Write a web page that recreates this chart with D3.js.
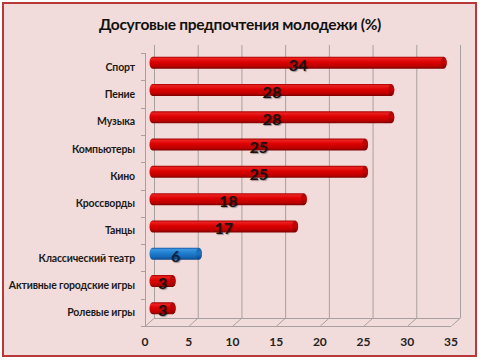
<!DOCTYPE html>
<html><head><meta charset="utf-8">
<script src="https://cdn.jsdelivr.net/npm/d3@7/dist/d3.min.js"></script>
<style>html,body{margin:0;padding:0;background:#fff;}svg{display:block;}</style>
</head><body>
<script>
const categories = ["Спорт","Пение","Музыка","Компьютеры","Кино","Кроссворды","Танцы","Классический театр","Активные городские игры","Ролевые игры"];
const values = [34,28,28,25,25,18,17,6,3,3];
const highlight = ["Классический театр"];
const xTicks = [0,5,10,15,20,25,30,35];
const title = "Досуговые предпочтения молодежи (%)";

const W=480,H=360;
const svg=d3.select("body").append("svg").attr("width",W).attr("height",H);
const defs=svg.append("defs");
function grad(id,stops){
  const g=defs.append("linearGradient").attr("id",id).attr("x1",0).attr("y1",0).attr("x2",0).attr("y2",1);
  stops.forEach(s=>g.append("stop").attr("offset",s[0]).attr("stop-color",s[1]));
}
grad("red",[[0,"#a00000"],[0.15,"#ec2020"],[0.45,"#dc0000"],[0.8,"#bc0000"],[1,"#7a0000"]]);
grad("blue",[[0,"#1258a0"],[0.15,"#3a94e0"],[0.45,"#1f7ed0"],[0.8,"#1466b4"],[1,"#0c4584"]]);
grad("redcap",[[0,"#8a0000"],[0.5,"#c00000"],[1,"#700000"]]);
grad("bluecap",[[0,"#0e4c8c"],[0.5,"#1a70c0"],[1,"#0b3e74"]]);

svg.append("rect").attr("x",3).attr("y",3).attr("width",473).attr("height",353)
  .attr("fill","#f2dcdb").attr("stroke","#b8393a").attr("stroke-width",2);

svg.append("text").attr("x",240).attr("y",30).attr("text-anchor","middle")
  .attr("font-family","Lato, 'Open Sans', sans-serif").attr("font-size",15.5).attr("font-weight",700)
  .attr("letter-spacing",-0.3).attr("fill","#111").text(title);

const x=d3.scaleLinear().domain([0,35]).range([145,451]);
const y=d3.scaleBand().domain(categories).range([53,326]);
const dx=9, dy=-8;
const plotTop=53, plotBase=326;

const grid=svg.append("g").attr("stroke","#a6a0a0").attr("stroke-width",1).attr("fill","none");
xTicks.forEach(t=>{
  grid.append("line").attr("x1",x(t)+dx+0.5).attr("x2",x(t)+dx+0.5).attr("y1",plotTop+dy).attr("y2",plotBase+dy);
  grid.append("line").attr("x1",x(t)+dx+0.5).attr("y1",plotBase+dy).attr("x2",x(t)+0.5).attr("y2",plotBase);
});
grid.append("line").attr("x1",x(0)+dx).attr("x2",x(35)+dx).attr("y1",plotBase+dy+0.5).attr("y2",plotBase+dy+0.5);
grid.append("line").attr("x1",x(0)).attr("x2",x(35)).attr("y1",plotBase+0.5).attr("y2",plotBase+0.5);
grid.append("line").attr("x1",x(0)+0.5).attr("x2",x(0)+0.5).attr("y1",plotTop).attr("y2",plotBase);
const bounds=categories.map(c=>y(c)).concat([y.range()[1]]);
bounds.forEach(b=>grid.append("line").attr("x1",x(0)-4).attr("x2",x(0)).attr("y1",Math.round(b)+0.5).attr("y2",Math.round(b)+0.5));

svg.append("g").selectAll("text").data(xTicks).join("text")
  .attr("x",d=>x(d)).attr("y",346).attr("text-anchor","middle")
  .attr("font-family","Lato, sans-serif").attr("font-size",12).attr("font-weight",700).attr("fill","#222")
  .text(d=>d);

svg.append("g").selectAll("text").data(categories).join("text")
  .attr("x",135).attr("y",d=>y(d)+y.bandwidth()/2+4).attr("text-anchor","end")
  .attr("font-family","Lato, sans-serif").attr("font-size",10.5).attr("font-weight",700)
  .attr("letter-spacing",-0.15).attr("fill","#1a1a1a")
  .text(d=>d);

const bh=12, r=3;
const bars=svg.append("g");
categories.forEach((c,i)=>{
  const v=values[i];
  const isB=highlight.includes(c);
  const x0=x(0)+dx/2, x1=x(v)+dx/2;
  const cy=y(c)+y.bandwidth()/2+dy/2;
  bars.append("rect").attr("x",x0).attr("y",cy-bh/2).attr("width",x1-x0).attr("height",bh)
    .attr("rx",r).attr("ry",bh/2).attr("fill",isB?"url(#blue)":"url(#red)");
  bars.append("ellipse").attr("cx",x1-r).attr("cy",cy).attr("rx",r).attr("ry",bh/2-0.5)
    .attr("fill",isB?"url(#bluecap)":"url(#redcap)").attr("opacity",0.7);
});

svg.append("g").selectAll("text").data(categories).join("text")
  .attr("x",(c,i)=>(x(0)+x(values[i]))/2+dx/2)
  .attr("y",c=>y(c)+y.bandwidth()/2+dy/2+8)
  .attr("text-anchor","middle")
  .attr("font-family","Lato, sans-serif").attr("font-size",16).attr("font-weight",700)
  .attr("fill",c=>highlight.includes(c)?"#0c2340":"#1a1010")
  .style("text-shadow","1px 1px 1px rgba(0,0,0,0.35)")
  .text((c,i)=>values[i]);
</script>
</body></html>
